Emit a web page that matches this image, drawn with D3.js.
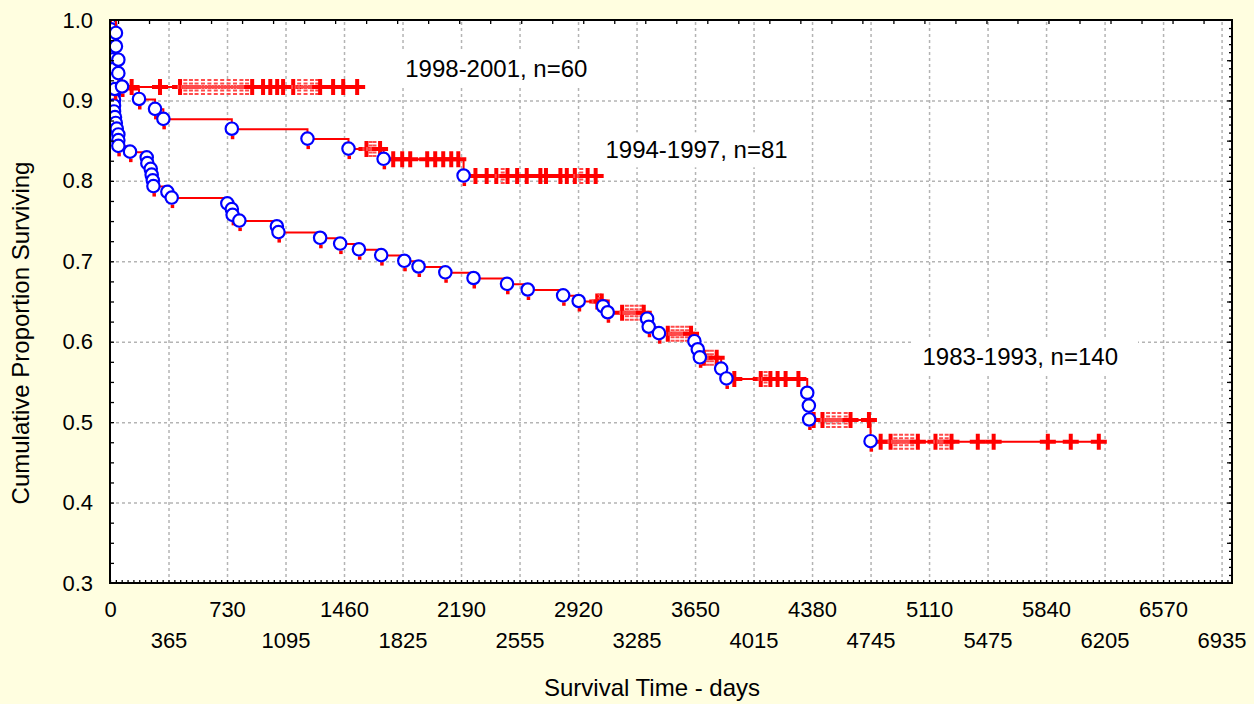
<!DOCTYPE html>
<html>
<head>
<meta charset="utf-8">
<script src="https://cdn.jsdelivr.net/npm/d3@7"></script>
<style>
body { margin: 0; background: #fffee0; }
svg text { font-family: "Liberation Sans", Arial, sans-serif; fill: #000; }
</style>
</head>
<body>
<svg id="chart" width="1254" height="704"></svg>
<script>

/// Data

var groupNames = ["1983-1993, n=140", "1994-1997, n=81", "1998-2001, n=60"];

// 1983-1993: death times (days) and survival right after each death
var deathTimes83 = [2, 4, 6, 8, 10, 12, 14, 16, 18, 19, 20, 22, 24, 25, 25, 25, 31, 36, 42, 52, 52, 52,
	125, 229, 233, 254, 260, 267, 271, 358, 385, 732, 760, 765, 807, 1041, 1051, 1311, 1436, 1553,
	1692, 1836, 1925, 2092, 2268, 2477, 2606, 2827, 2924,
	3076, 3105, 3351, 3361, 3425, 3646, 3667, 3680, 3813, 3846, 4350, 4360, 4362, 4745];
var survival83 = [0.9929, 0.9857, 0.9786, 0.9714, 0.9643, 0.9571, 0.95, 0.9429, 0.9357, 0.9286, 0.9214,
	0.9143, 0.9071, 0.9, 0.8929, 0.8857, 0.8786, 0.8714, 0.8643, 0.8571, 0.85, 0.8429,
	0.8357, 0.8286, 0.8214, 0.8143, 0.8071, 0.8, 0.7929, 0.7857, 0.7786, 0.7714, 0.7643, 0.7571, 0.75,
	0.7429, 0.7357, 0.7286, 0.7214, 0.7143, 0.7071, 0.7, 0.6929, 0.6857, 0.6786, 0.6714, 0.6643, 0.6571, 0.65,
	0.6435, 0.636, 0.628, 0.618, 0.61, 0.6, 0.59, 0.58, 0.566, 0.5537, 0.5359, 0.52, 0.5027, 0.4757];
var censorTimes83 = [3040, 3055, 3068, 3195, 3225, 3255, 3285, 3315, 3330, 3480, 3510, 3540, 3570, 3600, 3625,
	3705, 3730, 3755, 3785, 3895, 4060, 4090, 4120, 4165, 4215, 4295,
	4390, 4445, 4480, 4515, 4550, 4590, 4620, 4735,
	4808, 4870, 4900, 4935, 4970, 5005, 5040, 5150, 5185, 5220, 5250, 5414, 5513, 5851, 5994, 6169];

// 1994-1997
var deathTimes94 = [6, 10, 14, 18, 22, 26, 30, 181, 281, 333, 760, 1232, 1488, 1707, 2206];
var survival94 = [0.9877, 0.9753, 0.963, 0.9506, 0.9383, 0.9259, 0.9136, 0.9012, 0.8889, 0.8765, 0.8642,
	0.8519, 0.8395, 0.8268, 0.806];
var censorTimes94 = [1600, 1625, 1650, 1685, 1767, 1823, 1873, 1979, 2029, 2079, 2129, 2173,
	2280, 2350, 2410, 2450, 2480, 2540, 2600, 2685, 2720, 2810, 2850, 2900, 2940, 2980, 3030];

// 1998-2001
var deathTimes98 = [37, 37, 52, 52, 75];
var survival98 = [0.9833, 0.9667, 0.95, 0.9333, 0.9167];
var censorTimes98 = [135, 312, 437, 470, 505, 540, 580, 620, 660, 700, 740, 780, 820, 855, 887, 955, 1000,
	1043, 1080, 1143, 1180, 1220, 1260, 1293, 1311, 1392, 1455, 1542];

// axes
var xTickValues = [0, 365, 730, 1095, 1460, 1825, 2190, 2555, 2920, 3285, 3650, 4015, 4380, 4745,
	5110, 5475, 5840, 6205, 6570, 6935];
var yTickValues = [0.3, 0.4, 0.5, 0.6, 0.7, 0.8, 0.9, 1.0];
var xTitle = "Survival Time - days";
var yTitle = "Cumulative Proportion Surviving";


/// Setup

var pLeft = 110, pRight = 1232, pTop = 20, pBottom = 583;
var svg = d3.select("#chart");

var x = d3.scaleLinear().domain([0, 7000]).range([pLeft, pRight]);
var y = d3.scaleLinear().domain([0.3, 1.0]).range([pBottom, pTop]);

svg.append("rect").attr("width", 1254).attr("height", 704).style("fill", "#fffee0");
svg.append("rect")
	.attr("x", pLeft).attr("y", pTop)
	.attr("width", pRight - pLeft).attr("height", pBottom - pTop)
	.style("fill", "#ffffff");

svg.append("clipPath").attr("id", "plotclip")
	.append("rect")
	.attr("x", pLeft).attr("y", pTop)
	.attr("width", pRight - pLeft).attr("height", pBottom - pTop);


/// Grid

function styleGrid(g){
	g.select(".domain").remove();
	g.selectAll("line")
	.style("stroke", "#b4b4b4")
	.style("stroke-width", 1.5)
	.style("stroke-dasharray", "3,3");
}

svg.append("g")
	.attr("transform", "translate(0," + pBottom + ")")
	.call(d3.axisBottom(x).tickValues(xTickValues.slice(1)).tickSize(-(pBottom - pTop)).tickFormat(""))
	.call(styleGrid);

svg.append("g")
	.attr("transform", "translate(" + pLeft + ",0)")
	.call(d3.axisLeft(y).tickValues(yTickValues.slice(1, -1)).tickSize(-(pRight - pLeft)).tickFormat(""))
	.call(styleGrid);


/// Group labels with their white boxes

var labelAnchors = [[5069, 0.581], [3091, 0.838], [1842, 0.939]];

groupNames.forEach(function(name, i){
	var lg = svg.append("g");
	var box = lg.append("rect").style("fill", "#ffffff");
	var t = lg.append("text")
		.attr("x", x(labelAnchors[i][0]))
		.attr("y", y(labelAnchors[i][1]) + 8)
		.style("font-size", "24px")
		.text(name);
	var b = t.node().getBBox();
	box.attr("x", b.x - 10).attr("y", b.y - 4)
		.attr("width", b.width + 30).attr("height", b.height + 8);
});


/// Survival curves

var groups = [
	{deaths: deathTimes83, surv: survival83, censored: censorTimes83},
	{deaths: deathTimes94, surv: survival94, censored: censorTimes94},
	{deaths: deathTimes98, surv: survival98, censored: censorTimes98}
];

function levelAt(group, t){
	var v = 1;
	group.deaths.forEach(function(d, i){
		if(d <= t){ v = group.surv[i]; }
	});
	return v;
}

var plot = svg.append("g").attr("clip-path", "url(#plotclip)");
var stepLine = d3.line()
	.x(function(d){ return x(d[0]); })
	.y(function(d){ return y(d[1]); })
	.curve(d3.curveStepAfter);

groups.forEach(function(group){
	var pts = [[0, 1]];
	group.deaths.forEach(function(d, i){ pts.push([d, group.surv[i]]); });
	var lastT = Math.max(d3.max(group.deaths), d3.max(group.censored));
	pts.push([lastT, group.surv[group.surv.length - 1]]);

	plot.append("path")
		.datum(pts)
		.attr("d", stepLine)
		.style("fill", "none")
		.style("stroke", "#ff0000")
		.style("stroke-width", 2);

	// censored cases: crosses, pale where packed tightly
	var cs = group.censored;
	cs.forEach(function(c, i){
		var px = x(c);
		var near_prev = i > 0 && px - x(cs[i-1]) < 6.5;
		var near_next = i < cs.length - 1 && x(cs[i+1]) - px < 6.5;
		var pale = near_prev && near_next;
		plot.append("path")
			.attr("d", "M-8,0H8M0,-8V8")
			.attr("transform", "translate(" + px + "," + y(levelAt(group, c)) + ")")
			.style("stroke", pale ? "#ff4a4a" : "#ff0000")
			.style("stroke-width", 4)
			.style("stroke-dasharray", pale ? "2,1.5" : null)
			.style("fill", "none");
	});

	// complete cases: circles
	group.deaths.forEach(function(d, i){
		plot.append("rect")
			.attr("x", x(d) - 1).attr("y", y(group.surv[i]) + 6.5)
			.attr("width", 3.5).attr("height", 3.5)
			.style("fill", "#ff0000");
		plot.append("circle")
			.attr("cx", x(d)).attr("cy", y(group.surv[i]) - 0.5)
			.attr("r", 6.2)
			.style("fill", "#ffffff")
			.style("stroke", "#0000ff")
			.style("stroke-width", 2.2);
	});
});


/// Axes, ticks and frame

function styleTicks(g){
	g.select(".domain").remove();
	g.selectAll("line").style("stroke", "#000").style("stroke-width", 1.3);
}

svg.append("g")
	.attr("transform", "translate(0," + pBottom + ")")
	.call(d3.axisBottom(x).tickValues(d3.range(0, 7000, 36.5)).tickSize(-3).tickFormat(""))
	.call(styleTicks);

svg.append("g")
	.attr("transform", "translate(0," + pTop + ")")
	.call(d3.axisTop(x).tickValues(d3.range(50, 7000, 193.5)).tickSize(-4).tickFormat(""))
	.call(styleTicks);

svg.append("g")
	.attr("transform", "translate(" + pLeft + ",0)")
	.call(d3.axisLeft(y).tickValues(d3.range(0.325, 1.0, 0.025)).tickSize(-4).tickFormat(""))
	.call(styleTicks);

svg.append("g")
	.attr("transform", "translate(" + pRight + ",0)")
	.call(d3.axisRight(y).tickValues(d3.range(0.31, 1.0, 0.01)).tickSize(-3).tickFormat(""))
	.call(styleTicks);

svg.append("g")
	.attr("transform", "translate(" + pRight + ",0)")
	.call(d3.axisRight(y).tickValues(d3.range(0.35, 1.0, 0.05)).tickSize(-5).tickFormat(""))
	.call(styleTicks);

svg.append("rect")
	.attr("x", pLeft).attr("y", pTop)
	.attr("width", pRight - pLeft).attr("height", pBottom - pTop)
	.style("fill", "none")
	.style("stroke", "#000")
	.style("stroke-width", 2);

function styleLabels(g){
	g.select(".domain").remove();
	g.selectAll("text")
	.style("font-family", "'Liberation Sans', Arial, sans-serif")
	.style("font-size", "22px")
	.style("fill", "#000");
}

// x labels in two staggered rows
svg.append("g")
	.attr("transform", "translate(0," + pBottom + ")")
	.call(d3.axisBottom(x).tickValues(xTickValues.filter(function(d, i){ return i % 2 == 0; }))
		.tickSize(0).tickPadding(18).tickFormat(d3.format("d")))
	.call(styleLabels);

svg.append("g")
	.attr("transform", "translate(0," + pBottom + ")")
	.call(d3.axisBottom(x).tickValues(xTickValues.filter(function(d, i){ return i % 2 == 1; }))
		.tickSize(0).tickPadding(49).tickFormat(d3.format("d")))
	.call(styleLabels);

svg.append("g")
	.attr("transform", "translate(" + pLeft + ",0)")
	.call(d3.axisLeft(y).tickValues(yTickValues).tickSize(0).tickPadding(17).tickFormat(d3.format(".1f")))
	.call(styleLabels);

svg.append("text")
	.attr("x", 652).attr("y", 696)
	.attr("text-anchor", "middle")
	.style("font-size", "24px")
	.text(xTitle);

svg.append("text")
	.attr("transform", "translate(29,333) rotate(-90)")
	.attr("text-anchor", "middle")
	.style("font-size", "24px")
	.text(yTitle);

</script>
</body>
</html>
